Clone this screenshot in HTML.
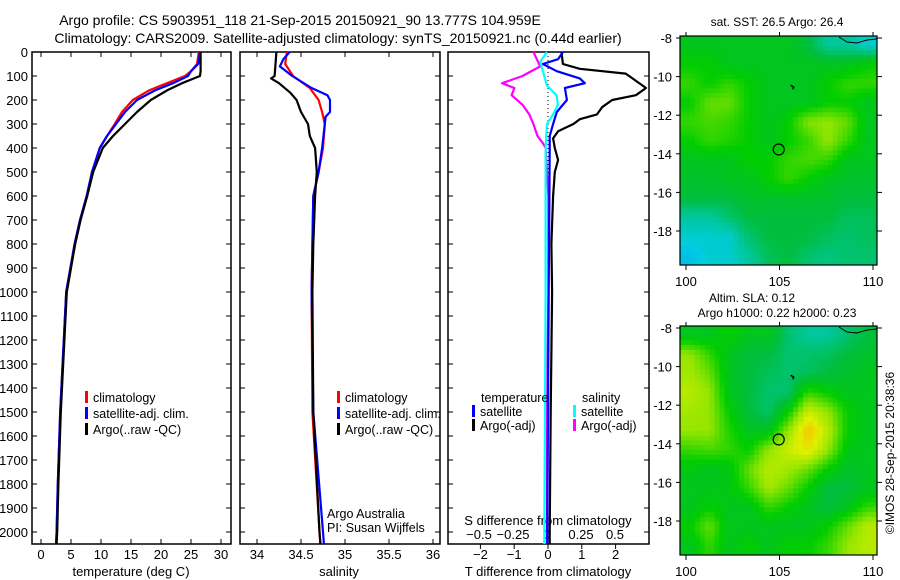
<!DOCTYPE html>
<html><head><meta charset="utf-8"><style>
body{margin:0;background:#fff;}
svg{display:block;font-family:"Liberation Sans",sans-serif;}
</style></head><body>
<svg id="c" width="900" height="580" viewBox="0 0 900 580">
<text x="300" y="25" font-size="14" text-anchor="middle">Argo profile: CS 5903951_118 21-Sep-2015 20150921_90 13.777S 104.959E</text>
<text x="338" y="43" font-size="14" text-anchor="middle">Climatology: CARS2009. Satellite-adjusted climatology: synTS_20150921.nc (0.44d earlier)</text>
<g id="g"></g>
</svg>
<script>
// ---- data ----
const depthTicks=[0,100,200,300,400,500,600,700,800,900,1000,1100,1200,1300,1400,1500,1600,1700,1800,1900,2000];
const tempTicks=[0,5,10,15,20,25,30];
const salTicks=[34,34.5,35,35.5,36];
const tdiffTicks=[-2,-1,0,1,2];
const sdiffTicks=[-0.5,-0.25,0,0.25,0.5];
const tempClimDepth=[0,50,80,100,130,160,200,250,300,350,400,500,600,700,800,1000,1200,1500,1800,2000,2050];
const tempClim=[26.3,26.0,25,24,21,18,15.3,13.5,12.3,11,9.8,8.5,7.7,6.5,5.6,4.2,3.8,3.2,2.8,2.6,2.5];
const tempSat=[26.5,26.2,25,24.5,22,19,16,14,12.5,11,9.8,8.5,7.6,6.5,5.6,4.2,3.8,3.2,2.8,2.6,2.5];
const tempArgoDepth=[0,80,100,110,130,160,200,250,300,350,400,500,600,700,800,1000,1200,1500,1800,2000,2050];
const tempArgo=[26.6,26.6,26.5,25.5,23.5,21,18.3,16,14,12,10.3,8.7,7.7,6.6,5.7,4.3,3.9,3.3,2.9,2.7,2.6];
const salClimDepth=[0,50,100,150,200,250,300,400,500,600,800,1000,1500,2000,2050];
const salClim=[34.34,34.32,34.41,34.6,34.7,34.74,34.77,34.75,34.7,34.64,34.63,34.62,34.63,34.71,34.72];
const salSatDepth=[0,30,60,100,150,180,200,250,270,300,400,500,600,800,1000,1500,2000,2050];
const salSat=[34.37,34.3,34.26,34.4,34.62,34.8,34.83,34.83,34.78,34.77,34.74,34.7,34.64,34.63,34.62,34.64,34.75,34.76];
const salArgoDepth=[0,100,110,130,170,200,250,300,350,400,500,600,800,1000,1500,2000,2050];
const salArgo=[34.22,34.2,34.16,34.25,34.38,34.45,34.5,34.58,34.6,34.66,34.68,34.66,34.64,34.63,34.64,34.71,34.72];
const tdSatDepth=[0,30,50,80,110,130,150,200,250,300,350,400,600,1000,1500,2000,2050];
const tdSat=[0.44,0.3,-0.15,0.26,0.94,1.09,0.5,0.56,0.26,0.15,0.05,0.05,0.04,0.02,0.0,-0.02,-0.02];
const tdArgoDepth=[0,50,70,90,110,150,180,200,230,260,280,300,330,360,400,450,500,600,800,1000,1500,2000,2050];
const tdArgo=[0.4,0.44,0.94,2.3,2.5,2.9,2.6,1.9,1.6,1.45,0.94,0.75,0.3,0.15,0.2,0.3,0.2,0.15,0.1,0.12,0.08,0.05,0.05];
const sdSatDepth=[0,40,80,140,180,220,260,300,400,600,1000,1500,2000,2050];
const sdSat=[0,-0.05,-0.03,0,0.07,0.08,0.045,0,-0.01,-0.01,-0.01,-0.015,-0.02,-0.02];
const sdArgoDepth=[0,60,100,130,150,180,220,260,300,350,380,400,600,1000,1500,2000,2050];
const sdArgo=[-0.1,-0.05,-0.18,-0.33,-0.24,-0.26,-0.18,-0.13,-0.1,-0.07,-0.03,-0.01,0.01,0.01,0.0,0.0,0.0];
const lonTicks=[100,105,110];
const latTicks=[-8,-10,-12,-14,-16,-18];
const sstGrid=[
[0.5,0.5,0.5,0.5,0.5,0.5,0.45,0.35,0.35,0.3],
[0.55,0.55,0.5,0.5,0.5,0.5,0.5,0.5,0.5,0.55],
[0.6,0.55,0.6,0.55,0.5,0.5,0.5,0.55,0.6,0.6],
[0.55,0.65,0.65,0.55,0.5,0.5,0.5,0.55,0.55,0.5],
[0.6,0.62,0.6,0.55,0.5,0.55,0.68,0.7,0.65,0.5],
[0.55,0.6,0.58,0.55,0.5,0.55,0.6,0.7,0.6,0.5],
[0.5,0.5,0.5,0.55,0.55,0.6,0.62,0.6,0.5,0.5],
[0.48,0.48,0.5,0.5,0.55,0.6,0.55,0.5,0.48,0.48],
[0.45,0.45,0.45,0.48,0.48,0.48,0.48,0.48,0.45,0.45],
[0.35,0.35,0.4,0.45,0.45,0.45,0.45,0.45,0.42,0.42],
[0.3,0.3,0.3,0.4,0.45,0.45,0.45,0.42,0.4,0.42],
[0.25,0.3,0.3,0.35,0.42,0.45,0.4,0.38,0.4,0.4]];
const slaGrid=[
[0.5,0.5,0.55,0.5,0.5,0.4,0.35,0.35,0.4,0.45],
[0.7,0.6,0.5,0.45,0.45,0.4,0.4,0.42,0.45,0.48],
[0.72,0.65,0.5,0.45,0.42,0.4,0.42,0.45,0.48,0.5],
[0.75,0.7,0.5,0.45,0.4,0.4,0.6,0.55,0.5,0.5],
[0.72,0.7,0.55,0.45,0.4,0.55,0.78,0.7,0.55,0.5],
[0.7,0.7,0.58,0.5,0.5,0.7,0.92,0.75,0.55,0.5],
[0.6,0.62,0.6,0.55,0.7,0.78,0.85,0.7,0.52,0.5],
[0.52,0.5,0.52,0.65,0.75,0.72,0.65,0.55,0.48,0.5],
[0.5,0.5,0.52,0.6,0.72,0.65,0.55,0.45,0.45,0.5],
[0.5,0.55,0.5,0.5,0.6,0.55,0.5,0.45,0.5,0.6],
[0.55,0.65,0.5,0.5,0.5,0.5,0.5,0.55,0.65,0.75],
[0.5,0.6,0.5,0.55,0.5,0.55,0.55,0.6,0.7,0.75]];
const argoLon=104.959, argoLat=-13.777;

// ---- drawing ----
const NS='http://www.w3.org/2000/svg';
const G=document.getElementById('g');
function mk(tag,attrs,parent){const e=document.createElementNS(NS,tag);for(const k in attrs)e.setAttribute(k,attrs[k]);(parent||G).appendChild(e);return e;}
function txt(x,y,s,size,anchor,parent){const e=mk('text',{x:x,y:y,'font-size':size||13,'text-anchor':anchor||'middle'},parent);e.textContent=s;return e;}
const TOP=52,BOT=544;
const yD=d=>TOP+d*0.24;
function panel(x0,x1,name){
  const r=mk('rect',{x:x0,y:TOP,width:x1-x0,height:BOT-TOP,fill:'none',stroke:'#000','stroke-width':1.5});
  
  
}
function line(xs,ds,xf,color,name,w){
  const pts=xs.map((v,i)=>xf(v).toFixed(1)+','+yD(ds[i]).toFixed(1)).join(' ');
  const p=mk('polyline',{points:pts,fill:'none',stroke:color,'stroke-width':w||2.2,'stroke-linejoin':'round'});
  
  
}
const xT=v=>41+v*6.0, xS=v=>257+(v-34)*88, xTD=v=>548+v*33.8, xSD=v=>547+v*136;
panel(32,231,'temperature-panel');panel(240,440,'salinity-panel');panel(448,649,'difference-panel');
depthTicks.forEach(d=>{const y=yD(d);
  const t=txt(28,y+5,String(d),13,'end');
  [[32,37],[226,231],[240,245],[435,440],[448,453],[644,649]].forEach(a=>mk('line',{x1:a[0],x2:a[1],y1:y,y2:y,stroke:'#000'}));
});
function xticks(ticks,f,labelY){ticks.forEach(v=>{const x=f(v);
  mk('line',{x1:x,x2:x,y1:BOT,y2:BOT-5,stroke:'#000'});mk('line',{x1:x,x2:x,y1:TOP,y2:TOP+5,stroke:'#000'});
  const t=txt(x,labelY,String(v),13);});}
xticks(tempTicks,xT,559);xticks(salTicks,xS,559);
tdiffTicks.forEach(v=>{const x=xTD(v);mk('line',{x1:x,x2:x,y1:BOT,y2:BOT+5,stroke:'#000'});
  const t=txt(x,559,String(v).replace('-','\u2212'),13);});
sdiffTicks.forEach(v=>{const x=xSD(v);
  const t=txt(x,539,String(v).replace('-','\u2212'),13);});
[[131,'temperature (deg C)','temperature-axis-title'],[339,'salinity','salinity-axis-title'],[548,'T difference from climatology','tdiff-axis-title']].forEach(a=>{const t=txt(a[0],576,a[1],13);});
{const t=txt(548,525,'S difference from climatology',13);}
mk('line',{x1:548,x2:548,y1:TOP,y2:BOT,stroke:'#000','stroke-dasharray':'1,3'});
line(tempClim,tempClimDepth,xT,'#f00','temp-climatology-line');
line(tempSat,tempClimDepth,xT,'#00f','temp-satellite-line');
line(tempArgo,tempArgoDepth,xT,'#000','temp-argo-line');
line(salClim,salClimDepth,xS,'#f00','sal-climatology-line');
line(salSat,salSatDepth,xS,'#00f','sal-satellite-line');
line(salArgo,salArgoDepth,xS,'#000','sal-argo-line');
line(tdArgo,tdArgoDepth,xTD,'#000','tdiff-argo-line');
line(sdArgo,sdArgoDepth,xSD,'#f0f','sdiff-argo-line');
line(tdSat,tdSatDepth,xTD,'#00f','tdiff-satellite-line');
line(sdSat,sdSatDepth,xSD,'#0ff','sdiff-satellite-line');
function leg(x,y,color,label,name){mk('rect',{x:x,y:y-11,width:3,height:12,fill:color});
  const t=txt(x+8,y,label,12.5,'start');}
[[85,'temp'],[337,'sal']].forEach(p=>{leg(p[0],402,'#f00','climatology',p[1]+'-legend-climatology');leg(p[0],418,'#00f','satellite-adj. clim.',p[1]+'-legend-satellite');leg(p[0],434,'#000','Argo(..raw -QC)',p[1]+'-legend-argo');});
{const t=txt(481,402,'temperature',12.5,'start');
 const s=txt(582,402,'salinity',12.5,'start');}
leg(472,416,'#00f','satellite','diff-legend-t-satellite');leg(472,430,'#000','Argo(-adj)','diff-legend-t-argo');
leg(573,416,'#0ff','satellite','diff-legend-s-satellite');leg(573,430,'#f0f','Argo(-adj)','diff-legend-s-argo');
{const t=txt(327,518,'Argo Australia',12.5,'start');
 const s=txt(327,532,'PI: Susan Wijffels',12.5,'start');}
// maps
const stops=[[0,[0,90,255]],[0.28,[0,205,225]],[0.45,[0,190,60]],[0.55,[0,205,0]],[0.7,[150,230,0]],[0.82,[225,240,0]],[1,[255,160,0]]];
function cmap(v){for(let i=1;i<stops.length;i++){if(v<=stops[i][0]){const a=stops[i-1],b=stops[i],t=(v-a[0])/(b[0]-a[0]);
  return 'rgb('+a[1].map((c,k)=>Math.round(c+(b[1][k]-c)*t)).join(',')+')';}}return 'rgb(255,160,0)';}
function sample(grid,fr,fc){const R=grid.length-1,C=grid[0].length-1;
  const r=Math.max(0,Math.min(R,fr)),c=Math.max(0,Math.min(C,fc));
  const r0=Math.floor(r),c0=Math.floor(c),r1=Math.min(R,r0+1),c1=Math.min(C,c0+1),tr=r-r0,tc=c-c0;
  return grid[r0][c0]*(1-tr)*(1-tc)+grid[r0][c1]*(1-tr)*tc+grid[r1][c0]*tr*(1-tc)+grid[r1][c1]*tr*tc;}
function map(grid,y0,name){
  const X0=680,X1=877,Y1=y0+229;
  const lx=v=>686+(v-100)*18.7, ly=v=>(y0+2)+(-8-v)*19.3;
  const g=mk('g',{});
  const rows=grid.length,cols=grid[0].length,S=4,nr=rows*S,nc=cols*S,cw=(X1-X0)/nc,ch=(Y1-y0)/nr;
  for(let r=0;r<nr;r++)for(let c=0;c<nc;c++){
    const v=sample(grid,(r+0.5)/S-0.5,(c+0.5)/S-0.5);
    mk('rect',{x:(X0+c*cw).toFixed(2),y:(y0+r*ch).toFixed(2),width:(cw+0.5).toFixed(2),height:(ch+0.5).toFixed(2),fill:cmap(v)},g);}
  mk('path',{d:`M${X1-38} ${y0+1} L${X1-30} ${y0+6} L${X1-20} ${y0+7} L${X1-10} ${y0+4} L${X1} ${y0+3}`,fill:'none',stroke:'#000','stroke-width':1},g);
  mk('path',{d:`M${lx(105.6)} ${ly(-10.45)} l3 2 l-1 2`,fill:'none',stroke:'#000','stroke-width':1.5},g);
  const ci=mk('circle',{cx:lx(argoLon),cy:ly(argoLat),r:5.5,fill:'none',stroke:'#000','stroke-width':1.2},g);
  
  mk('rect',{x:X0,y:y0,width:X1-X0,height:Y1-y0,fill:'none',stroke:'#000','stroke-width':1.2},g);
  lonTicks.forEach(v=>{const x=lx(v);mk('line',{x1:x,x2:x,y1:Y1,y2:Y1+5,stroke:'#000'},g);mk('line',{x1:x,x2:x,y1:y0,y2:y0-4,stroke:'#000'},g);
    const t=txt(x,Y1+21,String(v),13,'middle',g);});
  latTicks.forEach(v=>{const y=ly(v);mk('line',{x1:X0,x2:X0-4,y1:y,y2:y,stroke:'#000'},g);mk('line',{x1:X1,x2:X1+5,y1:y,y2:y,stroke:'#000'},g);
    const t=txt(672,y+5,String(v),13,'end',g);});
}
map(sstGrid,36,'sst-map');map(slaGrid,326,'sla-map');
{const t=txt(777,26,'sat. SST: 26.5 Argo: 26.4',12);
 const a=txt(752,302,'Altim. SLA: 0.12',12);
 const b=txt(777,317,'Argo h1000: 0.22 h2000: 0.23',12);
 const c=txt(0,0,'\u00a9IMOS 28-Sep-2015 20:38:36',12);c.setAttribute('transform','translate(894,453) rotate(-90)');}
</script>
</body></html>
